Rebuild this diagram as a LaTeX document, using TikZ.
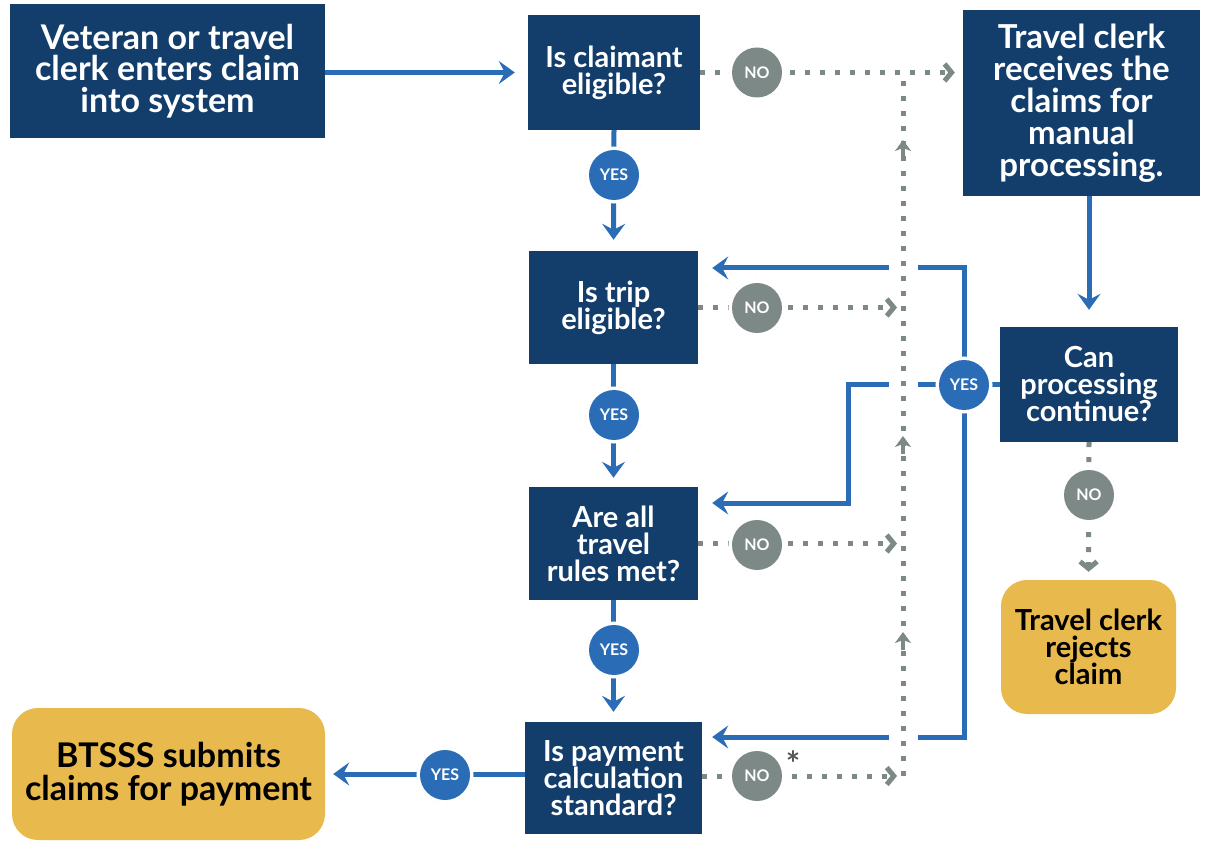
\documentclass[tikz,border=0pt]{standalone}
\usepackage{fontspec}
\setmainfont{Lato}
\usetikzlibrary{arrows.meta,calc}
\definecolor{navy}{HTML}{133E6C}
\definecolor{bblue}{HTML}{2B6CB6}
\definecolor{ggray}{HTML}{7D8986}
\definecolor{gold}{HTML}{E8B94C}
\definecolor{astc}{HTML}{555555}
\begin{document}
\begin{tikzpicture}[x=1pt,y=-1pt,
  box/.style={fill=navy, text=white, align=center, inner sep=0pt},
  goal/.style={fill=gold, text=black, rounded corners=26pt, align=center, inner sep=0pt},
  fA/.style={font=\bfseries\fontsize{34}{31.5}\selectfont},
  fC/.style={font=\bfseries\fontsize{33}{32}\selectfont},
  fB/.style={font=\bfseries\fontsize{29}{27}\selectfont},
  fI/.style={font=\bfseries\fontsize{34}{33}\selectfont},
  blline/.style={draw=bblue, line width=5pt},
  bl/.style={blline, -{Stealth[length=16pt,width=23pt,inset=6pt]}},
  gdots/.style={draw=ggray, line width=5pt, dash pattern=on 5pt off 10pt},
  gl/.style={gdots, -{Straight Barb[length=7pt,width=17pt]}},
  garrow/.style={draw=ggray, line width=4pt, -{Stealth[length=11pt,width=16pt,inset=3pt]}},
  badge/.style={circle, minimum size=50pt, inner sep=0pt, text=white,
    font=\bfseries\fontsize{16}{16}\selectfont, preaction={draw=white, line width=7pt}},
  yes/.style={badge, fill=bblue, append after command={\pgfextra{\draw[bblue, line width=1.4pt, dash pattern=on 1.4pt off 2.2pt] (\tikzlastnode.center) circle[radius=27.5pt];}}},
  no/.style={badge, fill=ggray, append after command={\pgfextra{\draw[ggray, line width=1.4pt, dash pattern=on 1.4pt off 2.2pt] (\tikzlastnode.center) circle[radius=27.5pt];}}},
]
\useasboundingbox (0,0) rectangle (1211,842);

% boxes
\node[box, fA, minimum width=315pt, minimum height=134pt] (A) at (167.5,71) {Veteran or travel\\clerk enters claim\\into system};
\node[box, fB, minimum width=172pt, minimum height=115pt] (B) at (614,72.5) {Is claimant\\eligible?};
\node[box, fC, minimum width=237pt, minimum height=186pt] (C) at (1081.5,103) {Travel clerk\\receives the\\claims for\\manual\\processing.};
\node[box, fB, minimum width=169pt, minimum height=113pt] (D) at (613.5,307.5) {Is trip\\eligible?};
\node[box, fB, minimum width=178pt, minimum height=115pt] (E) at (1089,384.5) {Can\\processing\\continue?};
\node[box, fB, minimum width=169pt, minimum height=113pt] (F) at (613.5,543.5) {Are all\\travel\\rules met?};
\node[box, fB, minimum width=177pt, minimum height=112pt] (G) at (613.5,778) {Is payment\\calculation\\standard?};
\node[goal, fB, minimum width=175pt, minimum height=134pt] (H) at (1088.5,647) {Travel clerk\\rejects\\claim};
\node[goal, fI, minimum width=313pt, minimum height=132pt] (I) at (168.5,774) {BTSSS submits\\claims for payment};

% coordinates
\coordinate (eY) at (964,385);
\coordinate (kD) at (964,268);
\coordinate (kF1) at (848,385);
\coordinate (kF2) at (848,503);
\coordinate (kG) at (964,737);
\coordinate (jB) at (903,72.5);
\coordinate (jG) at (903,776);

% blue connectors
\draw[bl, shorten >=13pt] (A.east |- B.west) -- (B.west);
\draw[bl, shorten >=11pt] (B.south) -- (D.north);
\draw[bl, shorten >=9pt] (D.south) -- (F.north);
\draw[bl, shorten >=10pt] (F.south) -- (G.north);
\draw[bl, shorten >=8pt] (G.west |- I.east) -- (I.east);
\draw[bl, shorten >=17pt] (C.south -| E.north) -- (E.north);
\draw[blline] (E.west |- eY) -- (eY);
\draw[bl, shorten >=14pt] (eY) -- (kD) -- (kD -| D.east);
\draw[bl, shorten >=14pt] (eY) -- (kF1) -- (kF2) -- (kF2 -| F.east);
\draw[bl, shorten >=10pt] (eY) -- (kG) -- (kG -| G.east);

% gaps where the dotted line crosses
\fill[white] (889,262) rectangle (918,274);
\fill[white] (889,379) rectangle (918,391);
\fill[white] (889,731) rectangle (918,743);

% gray connectors
\draw[gl, shorten >=8pt] (B.east) -- (B.east -| C.west);
\draw[gl, shorten >=6pt] (D.east) -- (D.east -| jB);
\draw[gl, shorten >=6pt] (F.east) -- (F.east -| jB);
\draw[gl, shorten >=6pt] (G.east |- jG) -- (jG);
\draw[gdots] (jG) -- (jB);
\draw[gl, shorten >=8pt] (E.south) -- (H.north);
\draw[garrow] (903,158) -- (903,140);
\draw[garrow] (903,454) -- (903,436);
\draw[garrow] (903,650) -- (903,632);

% badges
\node[yes] (b1) at (614,175) {YES};
\node[yes] (b2) at (614,415) {YES};
\node[yes] (b3) at (614,650) {YES};
\node[yes] (b4) at (445,775) {YES};
\node[yes] (b5) at (eY) {YES};
\node[no] (n1) at (757,72.5) {NO};
\node[no] (n2) at (757,308) {NO};
\node[no] (n3) at (757,545) {NO};
\node[no] (n4) at (757,776) {NO};
\node[no] (n5) at (1089,495) {NO};
\node[text=astc, font=\bfseries\fontsize{34}{34}\selectfont, inner sep=0pt] (star) at (793,764) {*};
\end{tikzpicture}
\end{document}
